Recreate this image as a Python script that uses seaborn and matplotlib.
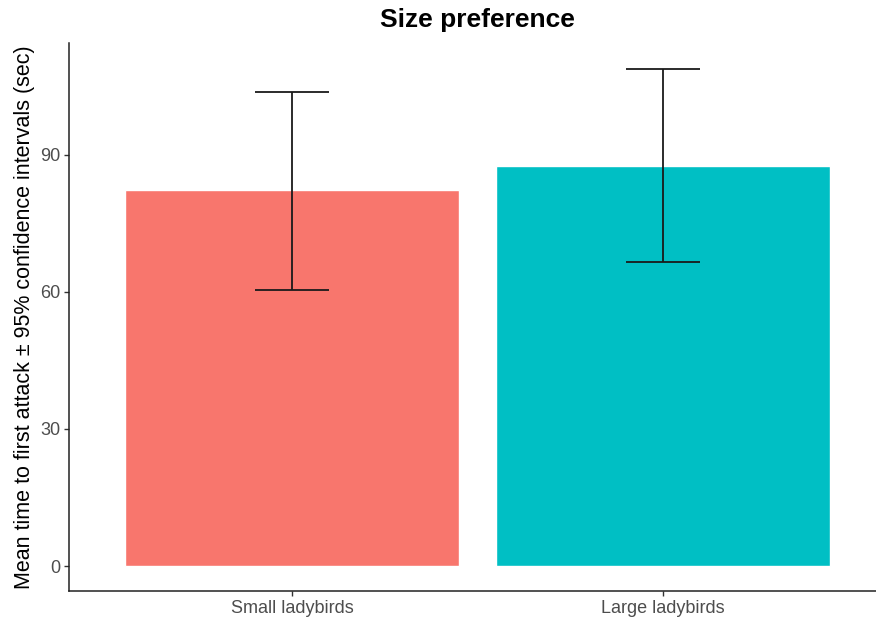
import matplotlib
matplotlib.use("Agg")
import matplotlib.pyplot as plt
import seaborn as sns
import pandas as pd

categories = ["Small ladybirds", "Large ladybirds"]
means = [82.2, 87.6]
ci_low = [60.5, 66.5]
ci_high = [103.7, 108.8]
colors = ["#F8766D", "#00BFC4"]
yticks = [0, 30, 60, 90]

sns.set_theme(style="white")
plt.rcParams['font.family'] = ['Liberation Sans', 'DejaVu Sans']

df = pd.DataFrame({"group": categories, "mean": means})

fig = plt.figure(figsize=(8.76, 6.19), dpi=100)
ax = fig.add_axes([69/876, 1 - 590.7/619, 1 - 69/876, (590.7 - 43.3)/619])

sns.barplot(data=df, x="group", y="mean", hue="group", palette=colors,
            order=categories, hue_order=categories, width=0.9,
            errorbar=None, legend=False, ax=ax, saturation=1)

xs = list(range(len(categories)))
yerr = [[m - lo for m, lo in zip(means, ci_low)], [hi - m for m, hi in zip(means, ci_high)]]
ax.errorbar(xs, means, yerr=yerr, fmt="none", ecolor="#1a1a1a", elinewidth=1.3,
            capsize=26.6, capthick=1.3)

ax.set_xlim(-0.601, 1.574)
ax.set_ylim(-5.4, 114.4)
ax.set_yticks(yticks)
ax.set_yticklabels([str(t) for t in yticks])

for side in ["top", "right"]:
    ax.spines[side].set_visible(False)
for side in ["left", "bottom"]:
    ax.spines[side].set_color("#222222")
    ax.spines[side].set_linewidth(1.1)

ax.tick_params(axis="both", which="both", length=3.5, width=1, color="#333333",
               labelcolor="#4D4D4D", labelsize=13, left=True, bottom=True, pad=3)

ax.set_xlabel("")
ax.set_ylabel("Mean time to first attack \u00b1 95% confidence intervals (sec)",
              fontsize=15.5, color="black")
ax.yaxis.set_label_coords(-(69 - 25) / (876 - 69), 0.5)
ax.yaxis.label.set_va("center")

fig.text(477/876, 1 - 20/619, "Size preference", ha="center", va="center",
         fontsize=19, fontweight="bold", color="black")

fig.savefig("out.png", dpi=100)
